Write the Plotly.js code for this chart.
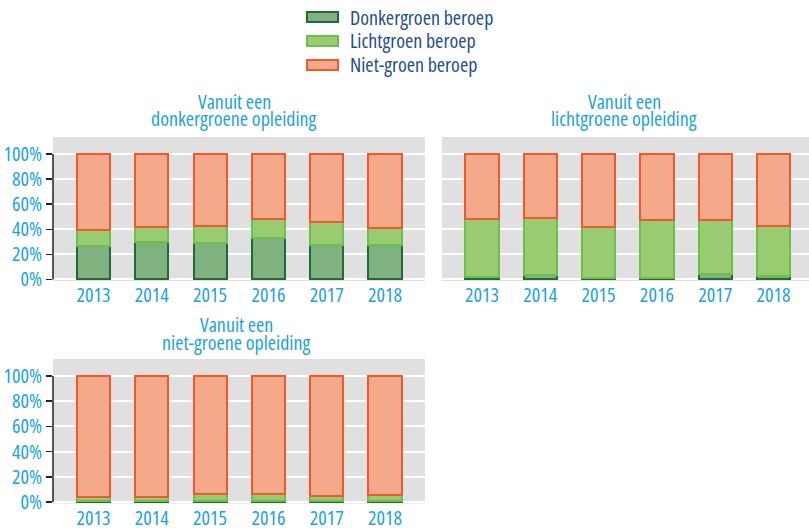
<!DOCTYPE html>
<html>
<head>
<meta charset="utf-8">
<script src="https://cdn.plot.ly/plotly-3.0.1.min.js"></script>
<style>
html,body{margin:0;padding:0;background:#fff}
#chart{width:809px;height:528px}
svg text{font-stretch:condensed !important;}
</style>
</head>
<body>
<div id="chart"></div>
<script>
// ---- data ----
var years = ['2013', '2014', '2015', '2016', '2017', '2018'];
var seriesNames = ['Donkergroen beroep', 'Lichtgroen beroep', 'Niet-groen beroep'];
var panelTitles = [['Vanuit een', 'donkergroene opleiding'], ['Vanuit een', 'lichtgroene opleiding'], ['Vanuit een', 'niet-groene opleiding']];
var yTickVals = [0, 20, 40, 60, 80, 100];
var yTickText = ['0%', '20%', '40%', '60%', '80%', '100%'];

var donkerDonker = [27.0, 30.2, 28.8, 32.8, 27.5, 27.5];
var donkerLicht  = [12.7, 11.6, 13.8, 15.1, 18.3, 13.5];
var donkerNiet   = [60.3, 58.2, 57.4, 52.1, 54.2, 59.0];

var lichtDonker = [1.9, 3.7, 1.0, 0.8, 4.0, 2.6];
var lichtLicht  = [46.1, 45.6, 40.6, 46.7, 43.7, 39.8];
var lichtNiet   = [52.0, 50.7, 58.4, 52.5, 52.3, 57.6];

var nietDonker = [0.5, 0.5, 0.5, 0.5, 0.5, 0.5];
var nietLicht  = [3.2, 3.4, 5.5, 5.8, 4.2, 4.8];
var nietNiet   = [96.3, 96.1, 94.0, 93.7, 95.3, 94.7];

// ---- styles ----
var W = 809, H = 528;
var fills = ['#80b27f', '#99cc70', '#f3a98a'];
var lines = ['#22693a', '#6cbf4a', '#ee5a2b'];
var blue = '#1ba3e0';
var navy = '#1f4e8c';
var FONT = 'Open Sans, Roboto, sans-serif';

var panels = [
  {data: [donkerDonker, donkerLicht, donkerNiet], xa: 'x', ya: 'y'},
  {data: [lichtDonker, lichtLicht, lichtNiet], xa: 'x2', ya: 'y2'},
  {data: [nietDonker, nietLicht, nietNiet], xa: 'x3', ya: 'y3'}
];

var traces = [];
panels.forEach(function (p) {
  p.data.forEach(function (vals, i) {
    traces.push({
      type: 'bar', x: years, y: vals, name: seriesNames[i],
      xaxis: p.xa, yaxis: p.ya, width: 0.57, showlegend: false,
      marker: {color: fills[i], line: {color: lines[i], width: 2}},
      hoverinfo: 'x+y+name'
    });
  });
});

function px(x) { return x / W; }
function py(y) { return 1 - y / H; }

function xaxis(dom, range, anchor) {
  return {domain: dom, range: range, type: 'category', showgrid: false, zeroline: false, anchor: anchor,
    showline: false, ticks: '', ticklabelstandoff: 0, tickfont: {family: FONT, size: 20, color: blue}, fixedrange: true};
}
function yaxis(dom, showLabels, anchor) {
  return {domain: dom, range: [-1.2, 113.5], tickmode: 'array', tickvals: yTickVals, ticktext: yTickText,
    showticklabels: showLabels, ticks: showLabels ? 'outside' : '', ticklen: 6, tickwidth: 1.5, tickcolor: '#222',
    showgrid: true, gridcolor: '#ffffff', gridwidth: 2, zeroline: false, showline: false,
    tickfont: {family: FONT, size: 20, color: blue}, anchor: anchor, fixedrange: true};
}

var d1x = [px(53), px(425)], d2x = [px(442), 1];
var d1y = [py(281), py(137)], d3y = [py(503.5), py(359)];

var shapes = [];
var annotations = [];
[['x', 'y'], ['x3', 'y3']].forEach(function (a) {
  shapes.push({type: 'line', xref: a[0] + ' domain', yref: a[1], x0: 0, x1: 0, y0: 0, y1: 100,
    line: {color: '#222', width: 1.5}});
});

// legend
var legY = [17, 41, 65];
seriesNames.forEach(function (n, i) {
  shapes.push({type: 'rect', xref: 'paper', yref: 'paper', x0: px(307), x1: px(338),
    y0: py(legY[i] + 5), y1: py(legY[i] - 5), fillcolor: fills[i], line: {color: lines[i], width: 2}});
  annotations.push({xref: 'paper', yref: 'paper', x: px(348), y: py(legY[i]), xanchor: 'left', yanchor: 'middle',
    text: n, showarrow: false, font: {family: FONT, size: 20, color: navy}});
});

// panel titles
var titlePos = [[234, 101], [624, 101], [236, 324]];
panelTitles.forEach(function (t, i) {
  annotations.push({xref: 'paper', yref: 'paper', x: px(titlePos[i][0]), y: py(titlePos[i][1]), xanchor: 'center', yanchor: 'middle',
    text: t[0], showarrow: false, font: {family: FONT, size: 20, color: blue}});
  annotations.push({xref: 'paper', yref: 'paper', x: px(titlePos[i][0]), y: py(titlePos[i][1] + 18), xanchor: 'center', yanchor: 'middle',
    text: t[1], showarrow: false, font: {family: FONT, size: 20, color: blue}});
});

var layout = {
  width: W, height: H, margin: {l: 0, r: 0, t: 0, b: 0},
  paper_bgcolor: '#ffffff', plot_bgcolor: '#e0e0e0',
  barmode: 'stack', showlegend: false,
  font: {family: FONT},
  xaxis: xaxis(d1x, [-0.695, 5.686], 'y'),
  yaxis: yaxis(d1y, true, 'x'),
  xaxis2: xaxis(d2x, [-0.686, 5.609], 'y2'),
  yaxis2: yaxis(d1y, false, 'x2'),
  xaxis3: xaxis(d1x, [-0.695, 5.686], 'y3'),
  yaxis3: yaxis(d3y, true, 'x3'),
  shapes: shapes,
  annotations: annotations
};

Plotly.newPlot('chart', traces, layout, {displayModeBar: false, staticPlot: true});
</script>
</body>
</html>
